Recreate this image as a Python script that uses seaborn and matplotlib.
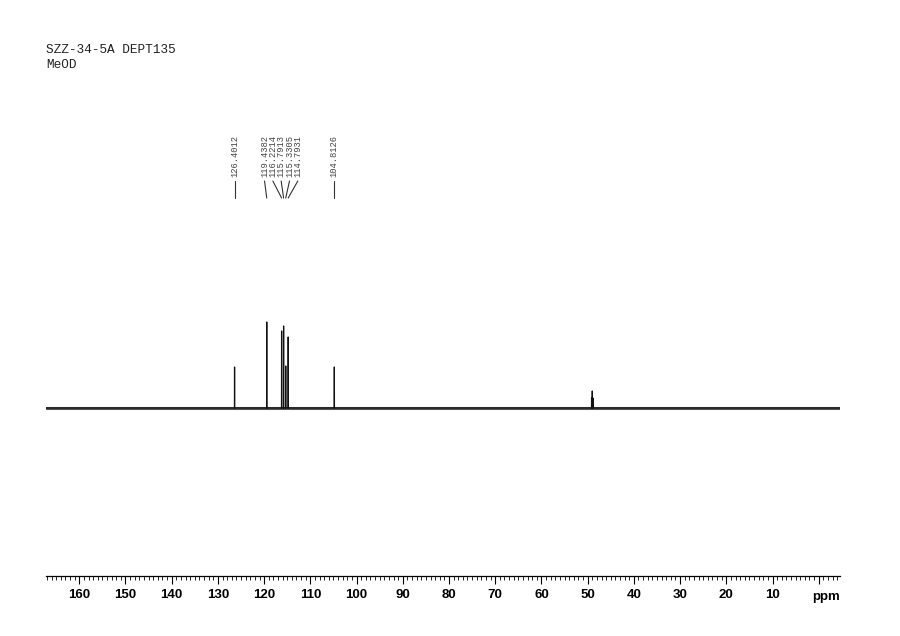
import numpy as np
import pandas as pd
import matplotlib
matplotlib.use('Agg')
import matplotlib.pyplot as plt
import seaborn as sns

# peak list (ppm) and stick heights
peak_ppm = [126.4012, 119.4382, 116.2214, 115.7913, 115.3305, 114.7931, 104.8126]
peak_height = [41, 86, 77, 82, 42, 71, 41]
# MeOD solvent multiplet (not labelled)
solvent_ppm = [49.15, 49.0, 48.85]
solvent_height = [10, 17, 10]
ppm_range = (167.2, -4.6)
major_ticks = [160, 150, 140, 130, 120, 110, 100, 90, 80, 70, 60, 50, 40, 30, 20, 10]
title_lines = ['SZZ-34-5A DEPT135', 'MeOD']

sns.set_style('white')
plt.rcParams['font.family'] = ['Liberation Sans', 'DejaVu Sans']

# stick spectrum: baseline with narrow spikes
sticks = sorted(zip(peak_ppm + solvent_ppm, peak_height + solvent_height), reverse=True)
xs, ys = [ppm_range[0]], [0]
for p, h in sticks:
    xs += [p + 0.02, p, p - 0.02]
    ys += [0, h, 0]
xs.append(ppm_range[1])
ys.append(0)
spec = pd.DataFrame({'ppm': xs, 'intensity': ys})
base = pd.DataFrame({'ppm': list(ppm_range), 'intensity': [0, 0]})

fig = plt.figure(figsize=(9, 6.36), dpi=100)
ax = fig.add_axes([46 / 900, 60 / 636, 794 / 900, 540 / 636])

# noisy-looking baseline band, then the sticks
sns.lineplot(data=base, x='ppm', y='intensity', sort=False, estimator=None,
             color='#555555', linewidth=2.2, ax=ax)
sns.lineplot(data=spec, x='ppm', y='intensity', sort=False, estimator=None,
             color='#111111', linewidth=0.9, ax=ax)

ax.set_xlim(*ppm_range)
ax.set_ylim(-168, 372)
ax.set_xlabel('')
ax.set_ylabel('')
ax.set_yticks([])
for s in ['left', 'right', 'top']:
    ax.spines[s].set_visible(False)
ax.spines['bottom'].set_color('black')
ax.spines['bottom'].set_linewidth(0.9)

ax.set_xticks(major_ticks + [0])
ax.set_xticklabels([str(t) for t in major_ticks] + [''], fontweight='bold', fontsize=9.5, color='black')
ax.set_xticks(np.arange(167, -5, -1), minor=True)
ax.tick_params(axis='x', which='major', direction='out', length=6, width=0.8, pad=3,
               bottom=True, colors='black')
ax.tick_params(axis='x', which='minor', direction='out', length=3, width=0.6, bottom=True, colors='black')
ax.text(-1.5, -0.028, 'ppm', transform=ax.get_xaxis_transform(), ha='center', va='top',
        fontweight='bold', fontsize=9.5, color='black')

# peak labels with leader lines
lab_y, lead_top, lead_bot = 231, 227, 210
groups = [[0], [1, 2, 3, 4, 5], [6]]
spacing = 1.8
for g in groups:
    centre = np.mean([peak_ppm[i] for i in g])
    n = len(g)
    for k, i in enumerate(g):
        lx = centre + (n - 1) / 2 * spacing - k * spacing if n > 1 else peak_ppm[i]
        ax.text(lx, lab_y, f'{peak_ppm[i]:.4f}', rotation=90, ha='center', va='bottom',
                fontsize=6.3, family=['Liberation Mono', 'DejaVu Sans Mono'], color='#444444')
        ax.plot([lx, peak_ppm[i]], [lead_top, lead_bot], color='#333333', linewidth=0.8)

fig.text(46 / 900, 1 - 50 / 636, title_lines[0], fontsize=9.2,
         family=['Liberation Mono', 'DejaVu Sans Mono'], va='center', ha='left', color='#222222')
fig.text(46 / 900, 1 - 65 / 636, title_lines[1], fontsize=9.2,
         family=['Liberation Mono', 'DejaVu Sans Mono'], va='center', ha='left', color='#222222')

fig.savefig('out.png', dpi=100)
